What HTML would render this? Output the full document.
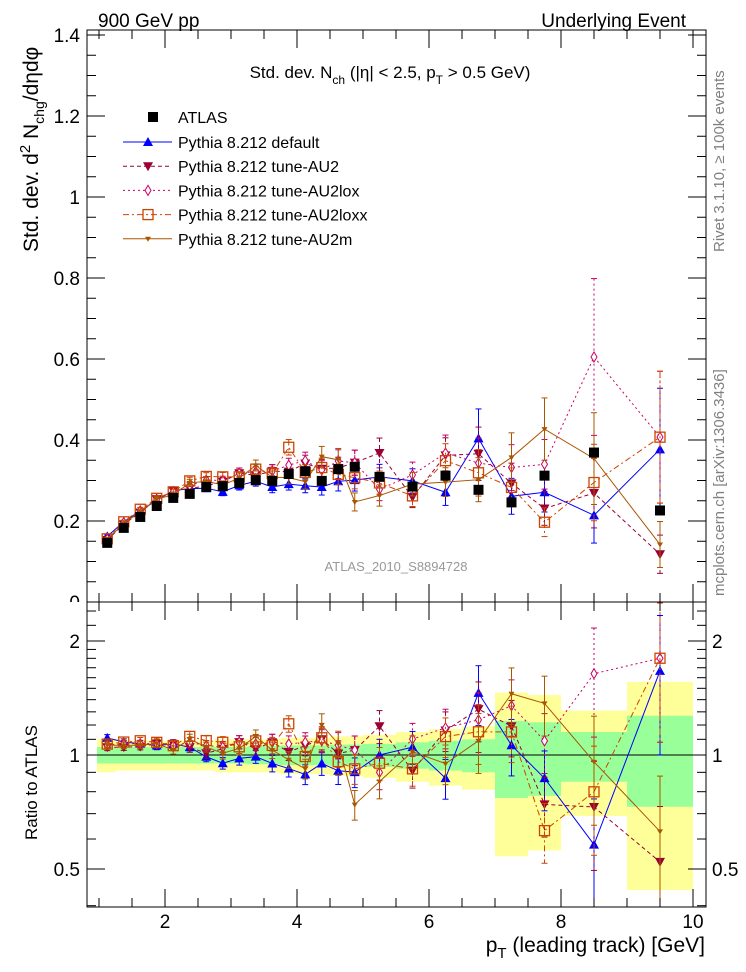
<!DOCTYPE html>
<html><head><meta charset="utf-8"><style>
body{margin:0;background:#fff}
svg{display:block;font-family:"Liberation Sans",sans-serif}
</style></head><body>
<svg id="chart" width="746" height="972" viewBox="0 0 746 972" xmlns="http://www.w3.org/2000/svg">
<defs>
<clipPath id="cm"><rect x="87" y="30" width="619" height="572"/></clipPath>
<clipPath id="cr"><rect x="87" y="602" width="619" height="305"/></clipPath>
<clipPath id="cz"><rect x="0" y="0" width="86" height="602"/></clipPath>
</defs>
<rect width="746" height="972" fill="#fff"/>
<g id="bands" clip-path="url(#cr)"></g>
<g id="marksMain" clip-path="url(#cm)"></g>
<g id="marksRatio" clip-path="url(#cr)"></g>
<rect x="87" y="30" width="619" height="572" fill="none" stroke="#000" stroke-width="1"/>
<rect x="87" y="602" width="619" height="305" fill="none" stroke="#000" stroke-width="1"/>
<g id="axes"></g>
<text x="98" y="27" font-size="19">900 GeV pp</text>
<text x="686" y="27" font-size="19" text-anchor="end">Underlying Event</text>
<text x="390" y="78" font-size="17" text-anchor="middle">Std. dev. N<tspan font-size="12" dy="6">ch</tspan><tspan dy="-6"> (|η| &lt; 2.5, p</tspan><tspan font-size="12" dy="6">T</tspan><tspan dy="-6"> &gt; 0.5 GeV)</tspan></text>
<text transform="translate(38,252) rotate(-90)" font-size="21">Std. dev. d<tspan font-size="15" dy="-8">2</tspan><tspan dy="8"> N</tspan><tspan font-size="14" dy="6">chg</tspan><tspan dy="-6">/dηdφ</tspan></text>
<text transform="translate(37,840) rotate(-90)" font-size="17">Ratio to ATLAS</text>
<text x="705" y="952" font-size="21" text-anchor="end">p<tspan font-size="15" dy="6">T</tspan><tspan dy="-6"> (leading track) [GeV]</tspan></text>
<text transform="translate(724,252) rotate(-90)" font-size="15" fill="#808080">Rivet 3.1.10, ≥ 100k events</text>
<text transform="translate(724,596) rotate(-90)" font-size="15" fill="#808080">mcplots.cern.ch [arXiv:1306.3436]</text>
<text x="396" y="571" font-size="13" fill="#999" text-anchor="middle">ATLAS_2010_S8894728</text>
<g id="legend"></g>
</svg>
<script>
const xCenters=[1.125,1.375,1.625,1.875,2.125,2.375,2.625,2.875,3.125,3.375,3.625,3.875,4.125,4.375,4.625,4.875,5.25,5.75,6.25,6.75,7.25,7.75,8.5,9.5];
const binEdges=[1,1.25,1.5,1.75,2,2.25,2.5,2.75,3,3.25,3.5,3.75,4,4.25,4.5,4.75,5,5.5,6,6.5,7,7.5,8,9,10];
const atlasValues=[0.146,0.183,0.21,0.237,0.257,0.267,0.284,0.286,0.294,0.301,0.299,0.316,0.323,0.299,0.328,0.334,0.309,0.285,0.312,0.277,0.246,0.312,0.369,0.226];
const atlasStatRel=[0.05,0.05,0.05,0.05,0.05,0.05,0.05,0.05,0.05,0.055,0.055,0.06,0.06,0.06,0.065,0.065,0.07,0.08,0.09,0.1,0.23,0.22,0.15,0.27];
const atlasTotRel=[0.1,0.09,0.09,0.09,0.09,0.09,0.09,0.1,0.1,0.1,0.1,0.11,0.11,0.11,0.12,0.12,0.13,0.15,0.17,0.19,0.46,0.44,0.31,0.56];
const defaultValues=[0.162,0.198,0.225,0.251,0.275,0.280,0.281,0.272,0.288,0.298,0.284,0.291,0.287,0.284,0.298,0.301,0.309,0.299,0.271,0.404,0.261,0.271,0.214,0.377];
const au2Values=[0.153,0.192,0.221,0.254,0.275,0.280,0.287,0.297,0.318,0.313,0.323,0.322,0.342,0.329,0.331,0.344,0.368,0.259,0.362,0.366,0.293,0.231,0.269,0.118];
const au2loxValues=[0.155,0.196,0.225,0.254,0.272,0.288,0.301,0.300,0.318,0.322,0.323,0.338,0.349,0.326,0.348,0.344,0.278,0.314,0.368,0.343,0.332,0.340,0.605,0.407];
const au2loxxValues=[0.156,0.198,0.229,0.256,0.272,0.299,0.310,0.309,0.309,0.328,0.317,0.382,0.320,0.332,0.315,0.307,0.294,0.262,0.349,0.319,0.283,0.197,0.295,0.407];
const au2mValues=[0.155,0.194,0.223,0.254,0.265,0.294,0.298,0.289,0.306,0.337,0.308,0.307,0.297,0.359,0.351,0.247,0.263,0.291,0.296,0.302,0.357,0.427,0.354,0.142];
const mcErrRel=[0.02,0.02,0.02,0.025,0.025,0.03,0.03,0.035,0.04,0.04,0.05,0.05,0.06,0.07,0.08,0.09,0.1,0.1,0.12,0.18,0.17,0.18,0.32,0.4];
const mainYTicks=[0.2,0.4,0.6,0.8,1,1.2,1.4];
const ratioYTicks=[0.5,1,2];
const xTicks=[2,4,6,8,10];

const NS='http://www.w3.org/2000/svg';
const X=v=>165+(v-2)*66;
const Y=v=>602-v*405;
const R=v=>755-114*Math.log2(v);
function mk(parent,tag,attrs){const e=document.createElementNS(NS,tag);for(const k in attrs)e.setAttribute(k,attrs[k]);parent.appendChild(e);return e;}
const gm=document.getElementById('marksMain'),gr=document.getElementById('marksRatio'),ga=document.getElementById('axes'),gb=document.getElementById('bands'),gl=document.getElementById('legend');

for(let i=0;i<xCenters.length;i++){
  const x0=X(binEdges[i])-(i===0?2:0),x1=X(binEdges[i+1]);
  const y=mk(gb,'rect',{x:x0,y:R(1+atlasTotRel[i]),width:x1-x0,height:R(1-atlasTotRel[i])-R(1+atlasTotRel[i]),fill:'#ffff99'});
  
  
  const g=mk(gb,'rect',{x:x0,y:R(1+atlasStatRel[i]),width:x1-x0,height:R(1-atlasStatRel[i])-R(1+atlasStatRel[i]),fill:'#99ff99'});
  
  
}
const one=mk(gb,'line',{x1:87,x2:706,y1:R(1),y2:R(1),stroke:'#000','stroke-width':1});



for(let v=0.05;v<1.41;v+=0.05){
  const major=Math.abs(v/0.2-Math.round(v/0.2))<1e-6;const L=major?18:9;
  mk(ga,'line',{x1:87,x2:87+L,y1:Y(v),y2:Y(v),stroke:'#000'});
  mk(ga,'line',{x1:706,x2:706-L,y1:Y(v),y2:Y(v),stroke:'#000'});
}
mainYTicks.forEach(v=>{const t=mk(ga,'text',{x:80,y:Y(v)+7,'font-size':19,'text-anchor':'end'});t.textContent=String(v);

});
const z=mk(ga,'text',{x:80,y:609,'font-size':19,'text-anchor':'end','clip-path':'url(#cz)'});z.textContent='0';


for(let v=1;v<=10.01;v+=0.5){
  const major=Math.abs(v-Math.round(v/2)*2)<1e-6;const L=major?18:9;
  [[30,1],[602,-1],[602,1],[907,-1]].forEach(([y0,d])=>mk(ga,'line',{x1:X(v),x2:X(v),y1:y0,y2:y0+d*L,stroke:'#000'}));
}
xTicks.forEach(v=>{const t=mk(ga,'text',{x:X(v),y:928,'font-size':19,'text-anchor':'middle'});t.textContent=String(v);

});
[0.4,0.5,0.6,0.7,0.8,0.9,1,1.1,1.2,1.3,1.4,1.5,1.6,1.7,1.8,1.9,2,2.2,2.4].forEach(v=>{
  const major=[0.5,1,2].includes(v);const L=major?18:9;
  mk(ga,'line',{x1:87,x2:87+L,y1:R(v),y2:R(v),stroke:'#000'});
  mk(ga,'line',{x1:706,x2:706-L,y1:R(v),y2:R(v),stroke:'#000'});
});
ratioYTicks.forEach(v=>{
  const t=mk(ga,'text',{x:80,y:R(v)+7,'font-size':19,'text-anchor':'end'});t.textContent=String(v);
  
  
  const t2=mk(ga,'text',{x:712,y:R(v)+7,'font-size':19});t2.textContent=String(v);
  
  
});

function marker(g,type,x,y,col){
  if(type==='sq')return mk(g,'rect',{x:x-5,y:y-5,width:10,height:10,fill:'#000'});
  if(type==='up')return mk(g,'path',{d:`M${x-5},${y+4}L${x+5},${y+4}L${x},${y-5}Z`,fill:col});
  if(type==='down')return mk(g,'path',{d:`M${x-5},${y-4}L${x+5},${y-4}L${x},${y+5}Z`,fill:col});
  if(type==='dia')return mk(g,'path',{d:`M${x},${y-5}L${x+3},${y}L${x},${y+5}L${x-3},${y}Z`,fill:'#fff',stroke:col});
  if(type==='osq')return mk(g,'rect',{x:x-5,y:y-5,width:10,height:10,fill:'none',stroke:col,'stroke-width':1.3});
  if(type==='star')return mk(g,'path',{d:`M${x-3},${y-2}L${x+3},${y-2}L${x},${y+3}Z`,fill:col});
}
const series=[
 {name:'default',vals:defaultValues,col:'#0000ff',m:'up',dash:'',label:'Pythia 8.212 default'},
 {name:'au2',vals:au2Values,col:'#990033',m:'down',dash:'4,3',label:'Pythia 8.212 tune-AU2'},
 {name:'au2lox',vals:au2loxValues,col:'#cc0066',m:'dia',dash:'2,3',label:'Pythia 8.212 tune-AU2lox'},
 {name:'au2loxx',vals:au2loxxValues,col:'#cc4400',m:'osq',dash:'6,3,2,3',label:'Pythia 8.212 tune-AU2loxx'},
 {name:'au2m',vals:au2mValues,col:'#aa5500',m:'star',dash:'',label:'Pythia 8.212 tune-AU2m'}
];
function drawSeries(g,s,ys,errs){
  const pts=s.vals.map((v,i)=>X(xCenters[i])+','+ys(i));
  const pl=mk(g,'polyline',{points:pts.join(' '),fill:'none',stroke:s.col,'stroke-width':1,'stroke-dasharray':s.dash});
  
  
  s.vals.forEach((v,i)=>{
    const x=X(xCenters[i]);const [a,b]=errs(i);
    mk(g,'line',{x1:x,x2:x,y1:a,y2:b,stroke:s.col,'stroke-dasharray':s.dash});
    mk(g,'line',{x1:x-3,x2:x+3,y1:a,y2:a,stroke:s.col});mk(g,'line',{x1:x-3,x2:x+3,y1:b,y2:b,stroke:s.col});
    const m=marker(g,s.m,x,ys(i),s.col);
    
    
  });
}
series.forEach(s=>{
  drawSeries(gm,s,i=>Y(s.vals[i]),i=>[Y(s.vals[i]*(1+mcErrRel[i])),Y(s.vals[i]*(1-mcErrRel[i]))]);
  const rs={...s,vals:s.vals.map((v,i)=>v/atlasValues[i])};
  drawSeries(gr,rs,i=>R(rs.vals[i]),i=>[R(rs.vals[i]*(1+mcErrRel[i])),R(rs.vals[i]*(1-mcErrRel[i]))]);
});
atlasValues.forEach((v,i)=>{
  const x=X(xCenters[i]);
  const m=marker(gm,'sq',x,Y(v));
  
  
});
const lt=mk(gl,'text',{x:178,y:123,'font-size':16});lt.textContent='ATLAS';


marker(gl,'sq',153,117);
series.forEach((s,k)=>{
  const y=142+k*24.2;
  mk(gl,'line',{x1:123,x2:172,y1:y,y2:y,stroke:s.col,'stroke-dasharray':s.dash});
  marker(gl,s.m,148,y,s.col);
  const t=mk(gl,'text',{x:178,y:y+6,'font-size':16});t.textContent=s.label;
  
  
});
</script>
</body></html>
